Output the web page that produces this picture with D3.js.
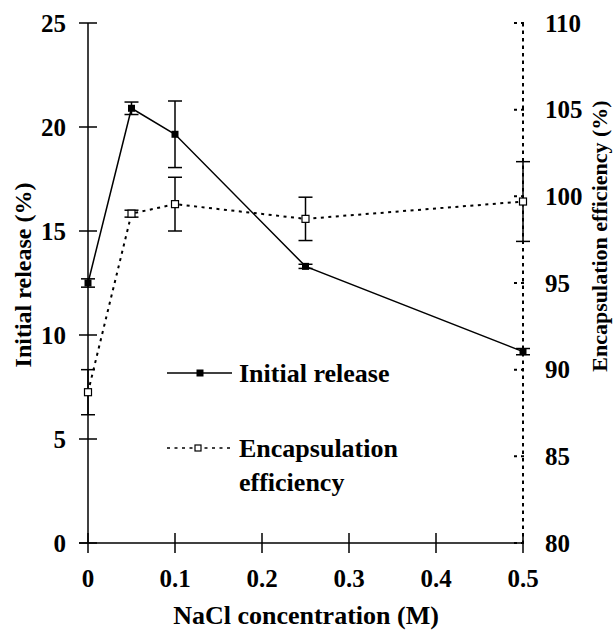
<!DOCTYPE html>
<html>
<head>
<meta charset="utf-8">
<script src="https://cdn.jsdelivr.net/npm/d3@7"></script>
<style>
  html, body { margin: 0; padding: 0; background: #fff; }
</style>
</head>
<body>
<svg id="chart" width="615" height="640"></svg>
<script>
// NaCl concentration (M)
const concentrations = [0, 0.05, 0.1, 0.25, 0.5];
// Initial release (%) with error
const releaseValues = [12.5, 20.9, 19.65, 13.3, 9.2];
const releaseErrors = [0.2, 0.3, 1.6, 0.1, 0.15];
// Encapsulation efficiency (%) with error
const efficiencyValues = [88.7, 99.0, 99.55, 98.7, 99.7];
const efficiencyErrors = [1.3, 0.2, 1.55, 1.25, 2.3];

const xTicks = [0, 0.1, 0.2, 0.3, 0.4, 0.5];
const leftTicks = [0, 5, 10, 15, 20, 25];
const rightTicks = [80, 85, 90, 95, 100, 105, 110];

const svg = d3.select("#chart")
  .attr("font-family", "'Liberation Serif', 'Times New Roman', serif")
  .attr("font-weight", "bold");
const plotLeft = 88, plotRight = 523, plotTop = 23, plotBottom = 543;

const x = d3.scaleLinear().domain([0, 0.5]).range([plotLeft, plotRight]);
const yL = d3.scaleLinear().domain([0, 25]).range([plotBottom, plotTop]);
const yR = d3.scaleLinear().domain([80, 110]).range([plotBottom, plotTop]);

const dashed = "3,4.5";
const tickFont = 25;

// Right axis (dotted)
const gR = svg.append("g").attr("transform", `translate(${plotRight},0)`);
gR.append("line").attr("x1", 0).attr("x2", 0).attr("y1", plotTop).attr("y2", plotBottom)
  .attr("stroke", "#000").attr("stroke-width", 2).attr("stroke-dasharray", "3.5,4");
gR.selectAll("line.tick").data(rightTicks).enter().append("line")
  .attr("class", "tick")
  .attr("x1", -9).attr("x2", 3)
  .attr("y1", d => yR(d)).attr("y2", d => yR(d))
  .attr("stroke", "#000").attr("stroke-width", 2).attr("stroke-dasharray", "3,4");
gR.selectAll("text").data(rightTicks).enter().append("text")
  .attr("x", 22).attr("y", d => yR(d)).attr("dy", "0.35em")
  .attr("font-size", tickFont).text(d => d);

// Left axis
const gL = svg.append("g").attr("transform", `translate(${plotLeft},0)`);
gL.append("line").attr("x1", 0).attr("x2", 0).attr("y1", plotTop).attr("y2", plotBottom)
  .attr("stroke", "#000").attr("stroke-width", 1.5);
gL.selectAll("line.tick").data(leftTicks).enter().append("line")
  .attr("class", "tick")
  .attr("x1", -9).attr("x2", 9)
  .attr("y1", d => yL(d)).attr("y2", d => yL(d))
  .attr("stroke", "#000").attr("stroke-width", 1.5);
gL.selectAll("text").data(leftTicks).enter().append("text")
  .attr("x", -22).attr("y", d => yL(d)).attr("dy", "0.35em")
  .attr("text-anchor", "end").attr("font-size", tickFont).text(d => d);

// Bottom axis
const gB = svg.append("g").attr("transform", `translate(0,${plotBottom})`);
gB.append("line").attr("x1", plotLeft - 9).attr("x2", plotRight).attr("y1", 0).attr("y2", 0)
  .attr("stroke", "#000").attr("stroke-width", 1.5);
gB.selectAll("line.tick").data(xTicks).enter().append("line")
  .attr("class", "tick")
  .attr("x1", d => x(d)).attr("x2", d => x(d))
  .attr("y1", -10).attr("y2", 10)
  .attr("stroke", "#000").attr("stroke-width", 1.5);
gB.selectAll("text").data(xTicks).enter().append("text")
  .attr("x", d => x(d)).attr("y", 35).attr("dy", "0.35em")
  .attr("text-anchor", "middle").attr("font-size", tickFont).text(d => d);

// Axis titles
svg.append("text").attr("x", 306).attr("y", 624)
  .attr("text-anchor", "middle").attr("font-size", 26).text("NaCl concentration (M)");
svg.append("text").attr("transform", "translate(31,275) rotate(-90)")
  .attr("text-anchor", "middle").attr("font-size", 24).text("Initial release (%)");
svg.append("text").attr("transform", "translate(607,236) rotate(-90)")
  .attr("text-anchor", "middle").attr("font-size", 22).text("Encapsulation efficiency (%)");

// Series data rows
const release = concentrations.map((c, i) => ({ c, v: releaseValues[i], e: releaseErrors[i] }));
const efficiency = concentrations.map((c, i) => ({ c, v: efficiencyValues[i], e: efficiencyErrors[i] }));

// Encapsulation efficiency line
svg.append("path").datum(efficiency)
  .attr("d", d3.line().x(d => x(d.c)).y(d => yR(d.v)))
  .attr("fill", "none").attr("stroke", "#000").attr("stroke-width", 2)
  .attr("stroke-dasharray", dashed);

// Initial release line
svg.append("path").datum(release)
  .attr("d", d3.line().x(d => x(d.c)).y(d => yL(d.v)))
  .attr("fill", "none").attr("stroke", "#000").attr("stroke-width", 1.5);

function errorBars(data, y) {
  const g = svg.append("g").attr("stroke", "#000").attr("stroke-width", 1.5);
  g.selectAll("line.v").data(data).enter().append("line")
    .attr("x1", d => x(d.c)).attr("x2", d => x(d.c))
    .attr("y1", d => y(d.v - d.e)).attr("y2", d => y(d.v + d.e));
  g.selectAll("line.t").data(data).enter().append("line")
    .attr("x1", d => x(d.c) - 7).attr("x2", d => x(d.c) + 7)
    .attr("y1", d => y(d.v + d.e)).attr("y2", d => y(d.v + d.e));
  g.selectAll("line.b").data(data).enter().append("line")
    .attr("x1", d => x(d.c) - 7).attr("x2", d => x(d.c) + 7)
    .attr("y1", d => y(d.v - d.e)).attr("y2", d => y(d.v - d.e));
}
errorBars(efficiency, yR);
errorBars(release, yL);

// Markers
const s = 7;
svg.selectAll("rect.eff").data(efficiency).enter().append("rect")
  .attr("x", d => x(d.c) - s / 2).attr("y", d => yR(d.v) - s / 2)
  .attr("width", s).attr("height", s)
  .attr("fill", "#fff").attr("stroke", "#000").attr("stroke-width", 1.2);
svg.selectAll("rect.rel").data(release).enter().append("rect")
  .attr("x", d => x(d.c) - s / 2).attr("y", d => yL(d.v) - s / 2)
  .attr("width", s).attr("height", s).attr("fill", "#000");

// Legend
const lg = svg.append("g");
lg.append("line").attr("x1", 167).attr("x2", 232).attr("y1", 373).attr("y2", 373)
  .attr("stroke", "#000").attr("stroke-width", 1.5);
lg.append("rect").attr("x", 200 - 3.5).attr("y", 373 - 3.5).attr("width", 7).attr("height", 7).attr("fill", "#000");
lg.append("text").attr("x", 239).attr("y", 373).attr("dy", "0.35em").attr("font-size", 26).text("Initial release");

lg.append("line").attr("x1", 167).attr("x2", 232).attr("y1", 448).attr("y2", 448)
  .attr("stroke", "#000").attr("stroke-width", 1.5).attr("stroke-dasharray", dashed);
lg.append("rect").attr("x", 198 - 3).attr("y", 448 - 3).attr("width", 6).attr("height", 6)
  .attr("fill", "#fff").attr("stroke", "#000").attr("stroke-width", 1.2);
lg.append("text").attr("x", 239).attr("y", 448).attr("dy", "0.35em").attr("font-size", 26).text("Encapsulation");
lg.append("text").attr("x", 239).attr("y", 482).attr("dy", "0.35em").attr("font-size", 26).text("efficiency");
</script>
</body>
</html>
